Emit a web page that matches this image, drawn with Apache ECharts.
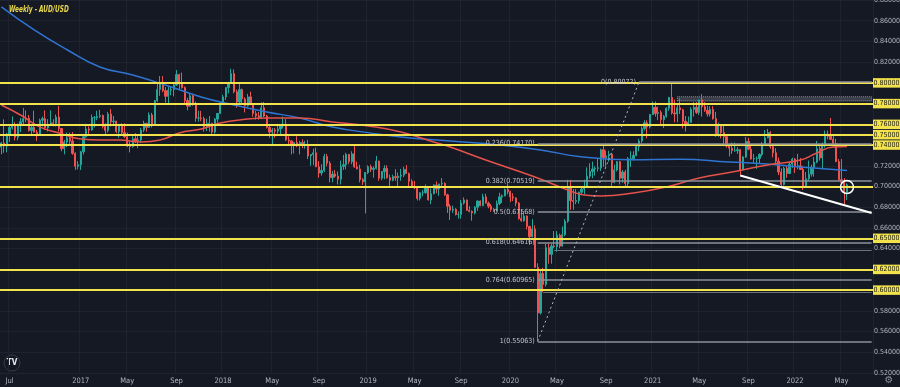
<!DOCTYPE html>
<html><head><meta charset="utf-8">
<script src="https://cdn.jsdelivr.net/npm/echarts/dist/echarts.min.js"></script>
<style>html,body{margin:0;padding:0;background:#151924;}#c{width:900px;height:387px;}</style>
</head><body><div id="c"></div><script>
// ---------- DATA ----------
const firstWeek = '2016-06-13';
const futureWeeks = 9;
// weekly [open, high, low, close]
const ohlc2016 = [
[.7380,.7430,.7310,.7420],[.7420,.7648,.7325,.7390],[.7390,.7515,.7330,.7505],[.7505,.7585,.7430,.7570],
[.7570,.7676,.7550,.7595],[.7595,.7620,.7445,.7475],[.7475,.7608,.7445,.7595],[.7595,.7660,.7525,.7625],
[.7625,.7758,.7600,.7655],[.7655,.7735,.7620,.7660],[.7660,.7690,.7530,.7540],[.7540,.7585,.7490,.7570],
[.7570,.7732,.7520,.7525],[.7525,.7545,.7440,.7505],[.7505,.7655,.7500,.7640],[.7640,.7675,.7580,.7655],
[.7655,.7734,.7545,.7565],[.7565,.7650,.7530,.7600],[.7600,.7735,.7585,.7615],[.7615,.7650,.7580,.7610],
[.7610,.7695,.7580,.7670],[.7670,.7778,.7530,.7560],[.7560,.7565,.7340,.7365],[.7365,.7450,.7310,.7430],
[.7430,.7520,.7380,.7470],[.7470,.7520,.7410,.7440],[.7440,.7525,.7305,.7320],[.7320,.7330,.7160,.7195],
[.7195,.7245,.7165,.7210]];
const ohlc2017 = [
[.7210,.7345,.7160,.7335],[.7335,.7490,.7310,.7480],[.7480,.7605,.7470,.7555],[.7555,.7580,.7500,.7545],
[.7545,.7695,.7540,.7665],[.7665,.7680,.7570,.7665],[.7665,.7731,.7640,.7675],[.7675,.7740,.7660,.7685],
[.7685,.7695,.7560,.7580],[.7580,.7610,.7490,.7540],[.7540,.7720,.7520,.7700],[.7700,.7749,.7580,.7625],
[.7625,.7680,.7600,.7630],[.7630,.7635,.7515,.7530],[.7530,.7605,.7470,.7585],[.7585,.7610,.7500,.7520],
[.7520,.7610,.7470,.7480],[.7480,.7520,.7380,.7390],[.7390,.7430,.7329,.7385],[.7385,.7485,.7375,.7460],
[.7460,.7515,.7420,.7440],[.7440,.7485,.7370,.7450],[.7450,.7565,.7420,.7545],[.7545,.7635,.7525,.7610],
[.7610,.7615,.7530,.7570],[.7570,.7715,.7570,.7690],[.7690,.7710,.7570,.7600],[.7600,.7835,.7590,.7830],
[.7830,.7990,.7815,.7935],[.7935,.8066,.7875,.8000],[.8000,.8065,.7910,.7925],[.7925,.7960,.7810,.7870],
[.7870,.7960,.7805,.7930],[.7930,.7965,.7880,.7935],[.7935,.7990,.7870,.7980],[.7980,.8125,.7970,.8080],
[.8080,.8090,.7940,.7990],[.7990,.8100,.7945,.7955],[.7955,.7965,.7800,.7830],[.7830,.7855,.7735,.7775],
[.7775,.7895,.7770,.7875],[.7875,.7895,.7780,.7790],[.7790,.7820,.7625,.7660],[.7660,.7730,.7625,.7660],
[.7660,.7730,.7630,.7655],[.7655,.7675,.7530,.7575],[.7575,.7655,.7535,.7605],[.7605,.7680,.7530,.7610],
[.7610,.7615,.7500,.7525],[.7525,.7660,.7510,.7650],[.7650,.7710,.7615,.7705],[.7705,.7815,.7700,.7805]];
const ohlc2018 = [
[.7805,.7885,.7800,.7865],[.7865,.7955,.7835,.7955],[.7955,.8010,.7900,.7995],[.7995,.8136,.7990,.8090],
[.8090,.8130,.7900,.7915],[.7915,.7935,.7760,.7815],[.7815,.7990,.7800,.7935],[.7935,.7945,.7805,.7845],
[.7845,.7860,.7715,.7780],[.7780,.7895,.7770,.7865],[.7865,.7915,.7785,.7790],[.7790,.7800,.7675,.7705],
[.7705,.7730,.7645,.7680],[.7680,.7720,.7645,.7665],[.7665,.7812,.7650,.7760],[.7760,.7815,.7670,.7680],
[.7680,.7690,.7560,.7570],[.7570,.7590,.7470,.7525],[.7525,.7565,.7410,.7545],[.7545,.7565,.7470,.7535],
[.7535,.7605,.7510,.7555],[.7555,.7600,.7500,.7585],[.7585,.7675,.7560,.7600],[.7600,.7650,.7440,.7450],
[.7450,.7485,.7390,.7440],[.7440,.7445,.7310,.7405],[.7405,.7430,.7320,.7425],[.7425,.7485,.7380,.7405],
[.7405,.7440,.7310,.7425],[.7425,.7455,.7370,.7395],[.7395,.7440,.7365,.7400],[.7400,.7450,.7265,.7295],
[.7295,.7310,.7200,.7310],[.7310,.7365,.7205,.7325],[.7325,.7375,.7190,.7190],[.7190,.7245,.7085,.7130],
[.7130,.7215,.7105,.7155],[.7155,.7315,.7140,.7290],[.7290,.7315,.7195,.7225],[.7225,.7245,.7040,.7085],
[.7085,.7150,.7040,.7120],[.7120,.7160,.7085,.7100],[.7100,.7145,.7020,.7070],[.7070,.7250,.7020,.7195],
[.7195,.7305,.7160,.7210],[.7210,.7325,.7165,.7310],[.7310,.7315,.7215,.7240],[.7240,.7340,.7215,.7315],
[.7315,.7394,.7180,.7190],[.7190,.7240,.7165,.7170],[.7170,.7210,.7040,.7065],[.7065,.7080,.7015,.7045]];
const ohlc2019 = [
[.7045,.7055,.6740,.7135],[.7135,.7205,.7120,.7190],[.7190,.7210,.7140,.7165],[.7165,.7195,.7085,.7175],
[.7175,.7296,.7165,.7245],[.7245,.7250,.7055,.7080],[.7080,.7150,.7060,.7145],[.7145,.7205,.7070,.7175],
[.7175,.7205,.7075,.7085],[.7085,.7115,.7005,.7060],[.7060,.7115,.7050,.7095],[.7095,.7168,.7055,.7085],
[.7085,.7135,.7005,.7100],[.7100,.7170,.7055,.7110],[.7110,.7190,.7090,.7165],[.7165,.7206,.7125,.7125],
[.7125,.7135,.6990,.7050],[.7050,.7070,.6990,.7000],[.7000,.7055,.6975,.6990],[.6990,.6995,.6865,.6885],
[.6885,.6945,.6865,.6940],[.6940,.6965,.6905,.6940],[.6940,.7020,.6930,.6990],[.6990,.6995,.6865,.6870],
[.6870,.6980,.6830,.6930],[.6930,.7020,.6925,.7015],[.7015,.7050,.6935,.6975],[.6975,.7025,.6910,.7025],
[.7025,.7082,.7000,.7030],[.7030,.7040,.6910,.6920],[.6920,.6930,.6745,.6810],[.6810,.6830,.6677,.6770],
[.6770,.6815,.6745,.6780],[.6780,.6790,.6720,.6730],[.6730,.6760,.6690,.6730],[.6730,.6870,.6690,.6840],
[.6840,.6895,.6825,.6870],[.6870,.6875,.6765,.6770],[.6770,.6810,.6750,.6760],[.6760,.6770,.6670,.6745],
[.6745,.6810,.6730,.6800],[.6800,.6865,.6765,.6860],[.6860,.6865,.6810,.6815],[.6815,.6930,.6810,.6900],
[.6900,.6930,.6835,.6840],[.6840,.6855,.6790,.6810],[.6810,.6830,.6755,.6780],[.6780,.6790,.6755,.6765],
[.6765,.6865,.6760,.6835],[.6835,.6940,.6820,.6900],[.6900,.6925,.6840,.6910],[.6910,.6980,.6905,.6970],
[.6970,.7031,.6925,.6950]];
const ohlc2020 = [
[.6950,.6960,.6850,.6900],[.6900,.6935,.6860,.6890],[.6890,.6895,.6810,.6840],[.6840,.6850,.6680,.6690],
[.6690,.6775,.6660,.6670],[.6670,.6745,.6660,.6715],[.6715,.6720,.6585,.6615],[.6615,.6620,.6435,.6515],
[.6515,.6685,.6510,.6590],[.6590,.6625,.6215,.6220],[.6220,.6260,.5506,.5780],[.5780,.6185,.5765,.6160],
[.6160,.6215,.5980,.6055],[.6055,.6445,.6035,.6410],[.6410,.6445,.6255,.6345],[.6345,.6445,.6255,.6425],
[.6425,.6570,.6405,.6420],[.6420,.6570,.6370,.6530],[.6530,.6545,.6405,.6425],[.6425,.6615,.6420,.6535],
[.6535,.6685,.6520,.6665],[.6665,.7065,.6650,.6995],[.6995,.7064,.6775,.6865],[.6865,.6975,.6775,.6855],
[.6855,.6975,.6830,.6865],[.6865,.6950,.6835,.6945],[.6945,.7000,.6915,.6975],[.6975,.7065,.6925,.7000],
[.7000,.7185,.6995,.7100],[.7100,.7225,.7075,.7145],[.7145,.7240,.7080,.7170],[.7170,.7195,.7105,.7175],
[.7175,.7275,.7145,.7180],[.7180,.7365,.7150,.7355],[.7355,.7414,.7190,.7280],[.7280,.7345,.7190,.7295],
[.7295,.7345,.7240,.7310],[.7310,.7325,.7006,.7040],[.7040,.7210,.7030,.7160],[.7160,.7245,.7145,.7240],
[.7240,.7245,.7020,.7080],[.7080,.7160,.7035,.7140],[.7140,.7160,.7000,.7030],[.7030,.7285,.6990,.7270],
[.7270,.7340,.7190,.7270],[.7270,.7340,.7250,.7300],[.7300,.7405,.7295,.7385],[.7385,.7460,.7340,.7440],
[.7440,.7580,.7420,.7560],[.7560,.7640,.7540,.7615],[.7615,.7640,.7465,.7575],[.7575,.7700,.7560,.7695]];
const ohlc2021 = [
[.7695,.7820,.7690,.7765],[.7765,.7820,.7675,.7705],[.7705,.7770,.7640,.7715],[.7715,.7735,.7590,.7645],
[.7645,.7690,.7565,.7675],[.7675,.7765,.7665,.7755],[.7755,.7865,.7730,.7860],[.7860,.8007,.7695,.7710],
[.7710,.7840,.7620,.7700],[.7700,.7800,.7620,.7760],[.7760,.7850,.7700,.7740],[.7740,.7750,.7560,.7630],
[.7630,.7680,.7530,.7600],[.7600,.7675,.7585,.7620],[.7620,.7765,.7615,.7745],[.7745,.7815,.7675,.7765],
[.7765,.7815,.7700,.7715],[.7715,.7840,.7690,.7835],[.7835,.7891,.7675,.7770],[.7770,.7815,.7720,.7735],
[.7735,.7780,.7675,.7700],[.7700,.7775,.7675,.7745],[.7745,.7775,.7645,.7655],[.7655,.7720,.7480,.7500],
[.7500,.7615,.7480,.7590],[.7590,.7600,.7465,.7520],[.7520,.7600,.7410,.7480],[.7480,.7505,.7375,.7390],
[.7390,.7410,.7290,.7370],[.7370,.7425,.7315,.7345],[.7345,.7425,.7335,.7345],[.7345,.7380,.7315,.7355],
[.7355,.7360,.7106,.7160],[.7160,.7295,.7155,.7285],[.7285,.7478,.7275,.7435],[.7435,.7470,.7350,.7360],
[.7360,.7410,.7260,.7265],[.7265,.7315,.7220,.7270],[.7270,.7290,.7170,.7270],[.7270,.7320,.7225,.7310],
[.7310,.7430,.7290,.7410],[.7410,.7545,.7405,.7470],[.7470,.7556,.7465,.7520],[.7520,.7535,.7365,.7385],
[.7385,.7405,.7280,.7325],[.7325,.7370,.7225,.7245],[.7245,.7280,.7110,.7140],[.7140,.7175,.6993,.7020],
[.7020,.7190,.7010,.7175],[.7175,.7200,.7085,.7125],[.7125,.7240,.7120,.7215],[.7215,.7278,.7180,.7265]];
const ohlc2022 = [
[.7265,.7275,.7130,.7190],[.7190,.7315,.7165,.7200],[.7200,.7275,.7160,.7165],[.7165,.7195,.6967,.6995],
[.6995,.7140,.6990,.7075],[.7075,.7250,.7055,.7120],[.7120,.7210,.7095,.7185],[.7185,.7285,.7095,.7235],
[.7235,.7440,.7225,.7365],[.7365,.7395,.7250,.7275],[.7275,.7425,.7165,.7395],[.7395,.7540,.7375,.7505],
[.7505,.7540,.7455,.7485],[.7485,.7661,.7450,.7455],[.7455,.7500,.7380,.7415],[.7415,.7460,.7235,.7240],
[.7240,.7265,.7055,.7065],[.7065,.7265,.7030,.7040],[.7040,.7080,.6829,.6945],[.6945,.7030,.6870,.7016]];

// moving averages: [week, value]
const maBlue = [
['2016-06-13',.8733],['2016-09-05',.8511],['2016-11-28',.8320],['2017-02-20',.8154],['2017-05-15',.8076],
['2017-08-14',.7970],['2017-11-06',.7864],['2018-01-29',.7787],['2018-04-23',.7719],['2018-07-16',.7661],
['2018-10-08',.7575],['2019-01-07',.7520],['2019-04-01',.7478],['2019-08-05',.7439],['2019-12-09',.7400],
['2020-03-23',.7353],['2020-06-29',.7290],['2020-11-09',.7258],['2021-03-15',.7264],['2021-07-19',.7237],
['2021-10-04',.7222],['2022-01-17',.7188],['2022-05-16',.7155]];
const maRed = [
['2016-06-13',.7787],['2016-08-01',.7690],['2016-09-19',.7575],['2016-11-07',.7517],['2017-01-02',.7459],
['2017-02-20',.7449],['2017-04-10',.7449],['2017-06-05',.7430],['2017-07-24',.7449],['2017-09-11',.7517],
['2017-11-06',.7555],['2017-12-25',.7613],['2018-02-12',.7642],['2018-04-23',.7661],['2018-07-16',.7661],
['2018-10-08',.7623],['2019-01-07',.7584],['2019-04-01',.7526],['2019-06-24',.7430],['2019-08-05',.7381],
['2019-11-04',.7256],['2020-03-09',.7092],['2020-06-01',.6966],['2020-07-13',.6918],['2020-08-24',.6908],
['2020-11-16',.6937],['2021-02-08',.6995],['2021-05-03',.7082],['2021-07-26',.7140],['2021-10-25',.7208],
['2022-01-17',.7256],['2022-02-28',.7324],['2022-04-11',.7381],['2022-05-16',.7385]];

const xTicks = [
['2016-07-04','Jul'],['2017-01-02','2017'],['2017-05-01','May'],['2017-09-04','Sep'],
['2018-01-01','2018'],['2018-05-07','May'],['2018-09-03','Sep'],['2019-01-07','2019'],
['2019-05-06','May'],['2019-09-02','Sep'],['2020-01-06','2020'],['2020-05-04','May'],
['2020-09-07','Sep'],['2021-01-04','2021'],['2021-05-03','May'],['2021-09-06','Sep'],
['2022-01-03','2022'],['2022-05-02','May']];

const yellowLevels = [0.80, 0.78, 0.76, 0.75, 0.74, 0.70, 0.65, 0.62, 0.60];
const fibRatios = ['0', '0.236', '0.382', '0.5', '0.618', '0.764', '1'];
const fibPrices = [0.80072, 0.74170, 0.70519, 0.67568, 0.64616, 0.60965, 0.55063];
const fibStart = '2020-03-16';
const fibEnd = '2020-11-30';
const extraRays = [['2020-04-27', 0.6387], ['2020-03-30', 0.5982]];
const trendFrom = ['2021-08-16', 0.7106];
const trendTo = ['2022-07-18', 0.6745];
const zone78 = [['2021-03-08', 0.7826], ['2022-07-18', 0.7866]];
const lastPrice = 0.70157;
const circleAt = ['2022-05-16', 0.6995];

// ---------- BUILD ----------
const ohlc = [].concat(ohlc2016, ohlc2017, ohlc2018, ohlc2019, ohlc2020, ohlc2021, ohlc2022);
const weeks = [];
const t0 = Date.parse(firstWeek + 'T00:00:00Z');
for (let i = 0; i < ohlc.length + futureWeeks; i++) {
  weeks.push(new Date(t0 + i * 7 * 86400000).toISOString().slice(0, 10));
}
const lastCat = weeks[weeks.length - 1];
const candleData = ohlc.map(d => [d[0], d[3], d[2], d[1]]);
const tickMap = new Map(xTicks);
function fullSeries(pairs) {
  const m = new Map(pairs);
  return weeks.map(w => (m.has(w) ? m.get(w) : null));
}
const FONT = '"DejaVu Sans Condensed","Liberation Sans Narrow",Roboto,sans-serif';
const YEL = '#f2e34c';
const boxLabel = (txt, bg, fg) => ({
  show: true, position: 'end', distance: 0, formatter: txt,
  backgroundColor: bg, color: fg, fontSize: 7, fontFamily: FONT, padding: [1.5, 0.5, 1, 0.5]
});

const markLines = [];
yellowLevels.forEach(v => {
  markLines.push({
    yAxis: v,
    lineStyle: { color: YEL, width: 2, type: 'solid' },
    label: v === 0.70 ? { show: false } : boxLabel(v.toFixed(5), YEL, '#1a1a1a')
  });
});
// label of 0.70 sits just below the last-price box
markLines.push({ yAxis: 0.70 - 0.0080, lineStyle: { opacity: 0 }, label: boxLabel('0.70000', YEL, '#1a1a1a') });
markLines.push({ yAxis: lastPrice, lineStyle: { opacity: 0 }, label: boxLabel(lastPrice.toFixed(5), '#22a093', '#ffffff') });
fibPrices.forEach((p, i) => {
  markLines.push([
    { coord: [i === 0 ? fibEnd : fibStart, p], lineStyle: { color: '#8d9099', width: 1.5, type: 'solid' },
      label: { show: true, position: 'start', distance: 3, formatter: fibRatios[i] + '(' + p.toFixed(5) + ')',
        color: '#c3c5cc', fontSize: 7, fontFamily: FONT } },
    { coord: [lastCat, p] }
  ]);
});
extraRays.forEach(r => {
  markLines.push([
    { coord: r, lineStyle: { color: '#6f727b', width: 1.2, type: 'solid' }, label: { show: false } },
    { coord: [lastCat, r[1]] }
  ]);
});
markLines.push([
  { coord: [fibStart, fibPrices[6]], lineStyle: { color: '#b4b7be', width: 1, type: [2, 3] }, label: { show: false } },
  { coord: [fibEnd, fibPrices[0]] }
]);
markLines.push([
  { coord: trendFrom, lineStyle: { color: '#ffffff', width: 2, type: 'solid' }, label: { show: false } },
  { coord: trendTo }
]);

const chart = echarts.init(document.getElementById('c'), null, { renderer: 'canvas' });
chart.setOption({
  animation: false,
  backgroundColor: '#151924',
  grid: { left: 0, right: 27, top: 0, bottom: 14, containLabel: false, outerBoundsMode: 'none' },
  xAxis: {
    type: 'category', data: weeks, boundaryGap: true,
    axisLine: { show: false }, axisTick: { show: false },
    axisLabel: {
      interval: (i, v) => tickMap.has(v), formatter: v => tickMap.get(v) || '',
      color: '#b2b5be', fontSize: 7.5, fontFamily: FONT, margin: 4, hideOverlap: false
    },
    splitLine: { show: true, interval: (i, v) => tickMap.has(v), lineStyle: { color: '#1f2330', width: 1 } }
  },
  yAxis: {
    type: 'value', position: 'right', min: 0.52, max: 0.88, interval: 0.02,
    axisLine: { show: false }, axisTick: { show: false },
    axisLabel: { color: '#b2b5be', fontSize: 7, fontFamily: FONT, margin: 1, formatter: v => v.toFixed(5) },
    splitLine: { lineStyle: { color: '#1f2330', width: 1 } }
  },
  graphic: [
    { type: 'text', x: 9, y: 5, scaleX: 0.72, style: { text: 'Weekly - AUD/USD', fill: '#e9d94c',
      font: 'italic bold 9px "DejaVu Sans Condensed", sans-serif' } },
    { type: 'circle', shape: { cx: 12, cy: 363, r: 8 }, style: { fill: '#131722', stroke: '#363a45', lineWidth: 1 } },
    { type: 'text', x: 12, y: 363, style: { text: 'TV', fill: '#e8e8e8', font: 'bold 8px ' + FONT,
      align: 'center', verticalAlign: 'middle' } },
    { type: 'text', x: 889, y: 380, style: { text: '⚙', fill: '#8a8d96', font: '10px "DejaVu Sans"',
      align: 'center', verticalAlign: 'middle' } }
  ],
  series: [
    {
      type: 'candlestick', data: candleData, barWidth: 1.7,
      itemStyle: { color: '#26a69a', color0: '#ef5350', borderColor: '#26a69a', borderColor0: '#ef5350', borderWidth: 1 },
      markPoint: {
        symbol: 'circle', symbolSize: 13, silent: true,
        itemStyle: { color: 'rgba(0,0,0,0)', borderColor: '#ffffff', borderWidth: 1.5 },
        label: { show: false },
        data: [{ coord: circleAt }]
      }
    },
    {
      type: 'line', data: fullSeries(maBlue), connectNulls: true, smooth: true, symbol: 'none',
      lineStyle: { color: '#2f74d0', width: 1.5 }
    },
    {
      type: 'line', data: fullSeries(maRed), connectNulls: true, smooth: true, symbol: 'none',
      lineStyle: { color: '#e4524a', width: 1.5 },
      markArea: {
        silent: true,
        itemStyle: { color: 'rgba(130,133,142,0.35)', borderColor: '#8d9099', borderWidth: 1, borderType: 'dotted' },
        data: [[{ coord: zone78[0] }, { coord: zone78[1] }]]
      },
      markLine: { silent: true, symbol: ['none', 'none'], animation: false, data: markLines }
    }
  ]
});
</script></body></html>
